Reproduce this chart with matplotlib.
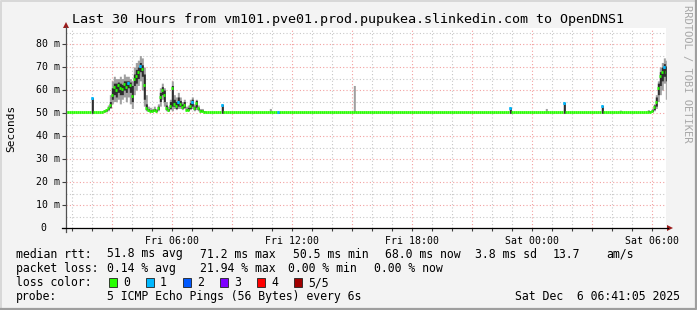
import numpy as np
import matplotlib
matplotlib.use("Agg")
import matplotlib.pyplot as plt
from matplotlib.ticker import MultipleLocator, FuncFormatter
from matplotlib.lines import Line2D
from matplotlib.patches import Polygon, Rectangle

plt.rcParams['font.family'] = ['DejaVu Sans Mono']

# ---- data (hours since Fri 00:00, rtt in ms) ----
baseline_rtt = 50.5
step_h = 0.1
t_first, t_last = 0.7, 30.7

# busy morning, Fri 02:24 .. 07:42
seg1_start = 2.4
seg1_median = [50.5, 50.5, 50.8, 51.2, 52, 53.5, 58, 61.5, 60, 62, 61, 60.5, 62.5, 61.5,
               63, 62, 57.5, 65, 66, 68, 70.5, 69, 62, 52, 51.5, 51, 51, 51.5, 51, 52,
               57, 60, 58, 52, 51.5, 53, 61, 54, 53, 55, 54, 52.5, 53.5, 51.5, 51.5, 53,
               55, 52, 54.5, 52, 51, 51, 50.5, 50.5]
seg1_outer_lo = [50.5, 50.5, 50.5, 50.5, 51, 52, 54, 55, 55, 56, 54, 56, 57, 55,
                 57, 54, 52, 58, 60, 62, 64, 60, 53, 51, 50.8, 50.5, 50.5, 50.8, 50.5, 51,
                 53, 56, 53, 51, 50.8, 51.5, 51, 52, 51.5, 52, 52, 51.5, 52, 51, 51, 51.5,
                 52, 51, 51.5, 51, 50.5, 50.5, 50.5, 50.5]
seg1_outer_hi = [50.5, 51, 51.5, 52, 53.5, 58, 64, 66, 65, 65, 66, 65, 67, 66,
                 66, 65, 64, 70, 72, 73, 75, 74, 70, 58, 53, 52.5, 52, 53, 52, 54,
                 61, 63, 61, 55, 53, 56, 64, 58, 57, 59, 57, 55, 56, 53, 53.5, 56,
                 57, 54, 56, 53.5, 52, 52, 51, 50.5]
seg1_inner_lo = [50.5, 50.5, 50.6, 51, 51.5, 52.5, 56, 58, 57, 59, 58, 58, 60, 59,
                 61, 59, 55, 62, 63, 65, 68, 66, 56, 51.5, 51, 50.8, 50.8, 51, 50.8, 51.5,
                 55, 58, 55, 51.5, 51, 52, 53, 53, 52, 53, 53, 52, 52.5, 51.2, 51.2, 52,
                 53, 51.5, 52.5, 51.5, 50.8, 50.8, 50.5, 50.5]
seg1_inner_hi = [50.5, 50.5, 51, 51.5, 52.5, 55, 61, 63, 63, 63.5, 63, 62.5, 64, 64,
                 64, 63.5, 62, 67, 69, 70, 72, 71, 67, 54, 52, 51.5, 51.5, 52, 51.5, 53,
                 59, 61.5, 60, 53.5, 52, 55, 62, 56, 55, 57, 55.5, 54, 55, 52, 52.5, 54.5,
                 56, 53, 55.5, 52.5, 51.5, 51.3, 50.8, 50.5]
seg1_loss = [0] * 14 + [1] + [0] * 5 + [1] + [0] * 18 + [1] + [0] * 6 + [1] + [0] * 7

# climb at the end, Sat 05:42 .. 06:42
seg2_start = 29.7
seg2_median = [50.5, 50.5, 50.5, 51, 52.5, 55, 61, 66, 68, 70, 68]
seg2_outer_lo = [50.5, 50.5, 50.5, 50.5, 51, 52, 55, 58, 60, 63, 56]
seg2_outer_hi = [50.5, 51.5, 51, 52, 54, 58, 64, 70, 72, 74, 73]
seg2_inner_lo = [50.5, 50.5, 50.5, 50.7, 51.5, 53, 58, 62, 64, 66, 64]
seg2_inner_hi = [50.5, 51, 50.8, 51.5, 53.5, 57, 63, 68, 70, 71.5, 70.5]
seg2_loss = [0, 0, 0, 0, 0, 0, 0, 0, 0, 1, 0]

# isolated blips
spike_hours = [2.0, 8.55, 10.9, 11.35, 15.15, 22.9, 24.7, 25.6, 27.45, 28.4]
spike_median = [56.4, 53.5, 50.5, 50.5, 50.5, 52.2, 50.5, 54.3, 53.0, 50.5]
spike_top = [56.7, 53.8, 52.0, 50.5, 62.0, 52.5, 52.0, 54.6, 53.3, 51.3]
spike_loss = [1, 1, 0, 1, 0, 1, 0, 1, 1, 0]

loss_labels = ['0', '1', '2', '3', '4', '5/5']
loss_colors = ['#26ff00', '#00b8ff', '#0059ff', '#7e00ff', '#ff0000', '#a10000']

x_tick_hours = [6, 12, 18, 24, 30]
x_tick_names = ['Fri 06:00', 'Fri 12:00', 'Fri 18:00', 'Sat 00:00', 'Sat 06:00']

title = 'Last 30 Hours from vm101.pve01.prod.pupukea.slinkedin.com to OpenDNS1'
stats_rtt = ['51.8 ms avg', '71.2 ms max', '50.5 ms min', '68.0 ms now', '3.8 ms sd', '13.7', 'am/s']
stats_loss = ['0.14 % avg', '21.94 % max', '0.00 % min', '0.00 % now']
probe_text = '5 ICMP Echo Pings (56 Bytes) every 6s'
stamp = 'Sat Dec  6 06:41:05 2025'

# ---- assemble full series ----
hours = np.round(np.arange(t_first, t_last + step_h / 2, step_h), 2)
n = len(hours)
median = np.full(n, baseline_rtt)
out_lo = np.full(n, baseline_rtt)
out_hi = np.full(n, baseline_rtt)
in_lo = np.full(n, baseline_rtt)
in_hi = np.full(n, baseline_rtt)
loss = np.zeros(n, dtype=int)


def idx(h):
    return int(round((h - t_first) / step_h))


for start, med, olo, ohi, ilo, ihi, ls in [
        (seg1_start, seg1_median, seg1_outer_lo, seg1_outer_hi, seg1_inner_lo, seg1_inner_hi, seg1_loss),
        (seg2_start, seg2_median, seg2_outer_lo, seg2_outer_hi, seg2_inner_lo, seg2_inner_hi, seg2_loss)]:
    i0 = idx(start)
    sl = slice(i0, i0 + len(med))
    median[sl] = med
    out_lo[sl] = olo
    out_hi[sl] = ohi
    in_lo[sl] = ilo
    in_hi[sl] = ihi
    loss[sl] = ls

for h, m, top, l in zip(spike_hours, spike_median, spike_top, spike_loss):
    i = idx(h)
    median[i] = m
    loss[i] = l
    out_lo[i] = baseline_rtt - 0.5 if l else baseline_rtt
    out_hi[i] = top
    if l:
        in_lo[i] = baseline_rtt - 0.6
        in_hi[i] = top

# ---- figure ----
W, H = 697, 310
fig = plt.figure(figsize=(W / 100, H / 100), dpi=100)
fig.patch.set_facecolor('#f3f3f3')

ax = fig.add_axes([66 / W, 1 - 228 / H, 600 / W, 200 / H])
ax.set_facecolor('white')
ax.set_xlim(41 / 60, 30 + 41 / 60)
ax.set_ylim(0, 87)

ax.xaxis.set_major_locator(MultipleLocator(3))
ax.xaxis.set_minor_locator(MultipleLocator(1))
ax.yaxis.set_major_locator(MultipleLocator(10))
ax.yaxis.set_minor_locator(MultipleLocator(5))
ax.grid(which='minor', color='#c8c8c8', linestyle=(0, (1, 2)), linewidth=0.8)
ax.grid(which='major', color='#f2a0a0', linestyle=(0, (1, 2)), linewidth=0.8)
ax.set_axisbelow(True)
for s in ax.spines.values():
    s.set_visible(False)

names = dict(zip(x_tick_hours, x_tick_names))
ax.xaxis.set_major_formatter(FuncFormatter(lambda v, p: names.get(int(round(v)), '')))
ax.tick_params(axis='x', which='both', direction='out', length=2, width=0.8,
               color='#404040', labelsize=7.1, pad=3.5)
ax.tick_params(axis='y', which='major', direction='out', length=3, width=0.8,
               color='#404040', labelleft=False)
ax.tick_params(axis='y', which='minor', length=0)

for v in range(0, 90, 10):
    if v == 0:
        ax.text(-0.0333, v, '0', transform=ax.get_yaxis_transform(), ha='right',
                va='center', fontsize=7.1)
    else:
        ax.text(-0.010, v, '%d m' % v, transform=ax.get_yaxis_transform(), ha='right',
                va='center', fontsize=7.1)

# smoke
ax.fill_between(hours, out_lo, out_hi, step='mid', color='#a0a0a0', linewidth=0, zorder=2)
ax.fill_between(hours, in_lo, in_hi, step='mid', color='#2e2e2e', linewidth=0, zorder=3)

# median, coloured by loss
cols = [loss_colors[l] for l in loss]
ax.hlines(median, hours - step_h / 2, hours + step_h / 2, colors=cols, linewidth=2.0,
          zorder=4, capstyle='butt')
m = loss > 0
ax.hlines(median[m], hours[m] - step_h / 2, hours[m] + step_h / 2,
          colors=[loss_colors[l] for l in loss[m]], linewidth=2.0, zorder=5, capstyle='butt')


def fx(px):
    return px / W


def fy(py):
    return 1 - py / H


# axes lines with arrows
fig.add_artist(Line2D([fx(66), fx(66)], [fy(232), fy(27)], color='#505050', lw=0.9))
fig.add_artist(Line2D([fx(62), fx(668)], [fy(228), fy(228)], color='black', lw=0.9))
arrow_c = '#9b1b1b'
fig.add_artist(Polygon([[fx(63), fy(28)], [fx(69), fy(28)], [fx(66), fy(22)]],
                       closed=True, color=arrow_c, lw=0))
fig.add_artist(Polygon([[fx(667), fy(225)], [fx(667), fy(231)], [fx(673), fy(228)]],
                       closed=True, color=arrow_c, lw=0))

# image frame
fig.add_artist(Line2D([fx(0.5), fx(0.5), fx(696)], [fy(309), fy(0.5), fy(0.5)],
                      color='#d8d8d8', lw=1.4))
fig.add_artist(Line2D([fx(0.5), fx(696), fx(696)], [fy(309), fy(309), fy(0.5)],
                      color='#9e9e9e', lw=1.6))

# texts
fig.text(fx(72), fy(19), title, ha='left', va='center', fontsize=9.6)
fig.text(fx(11), fy(128), 'Seconds', rotation=90, ha='center', va='center', fontsize=8)
fig.text(fx(687), fy(5), 'RRDTOOL / TOBI OETIKER', rotation=270, ha='center', va='top',
         fontsize=7.5, color='#a8a8a8')

rows = [254, 268.3, 282.5, 296.7]
fs = 8.3
fig.text(fx(16), fy(rows[0]), 'median rtt:', ha='left', va='center', fontsize=fs)
for x, s in zip([107, 200, 293, 385, 475, 553, 606], stats_rtt):
    fig.text(fx(x), fy(rows[0]), s, ha='left', va='center', fontsize=fs)
fig.text(fx(16), fy(rows[1]), 'packet loss:', ha='left', va='center', fontsize=fs)
for x, s in zip([107, 200, 288, 374], stats_loss):
    fig.text(fx(x), fy(rows[1]), s, ha='left', va='center', fontsize=fs)
fig.text(fx(16), fy(rows[2]), 'loss color:', ha='left', va='center', fontsize=fs)
for k, (lab, c) in enumerate(zip(loss_labels, loss_colors)):
    bx = 108.5 + 37 * k
    fig.add_artist(Rectangle((fx(bx), fy(286.5)), 8 / W, 8.5 / H, facecolor=c,
                             edgecolor='#202020', lw=0.6))
    fig.text(fx(bx + 14.5), fy(rows[2]), lab, ha='left', va='center', fontsize=fs)
fig.text(fx(16), fy(rows[3]), 'probe:', ha='left', va='center', fontsize=fs)
fig.text(fx(107), fy(rows[3]), probe_text, ha='left', va='center', fontsize=fs)
fig.text(fx(680), fy(rows[3]), stamp, ha='right', va='center', fontsize=fs)

fig.savefig('out.png', dpi=100, facecolor=fig.get_facecolor())
